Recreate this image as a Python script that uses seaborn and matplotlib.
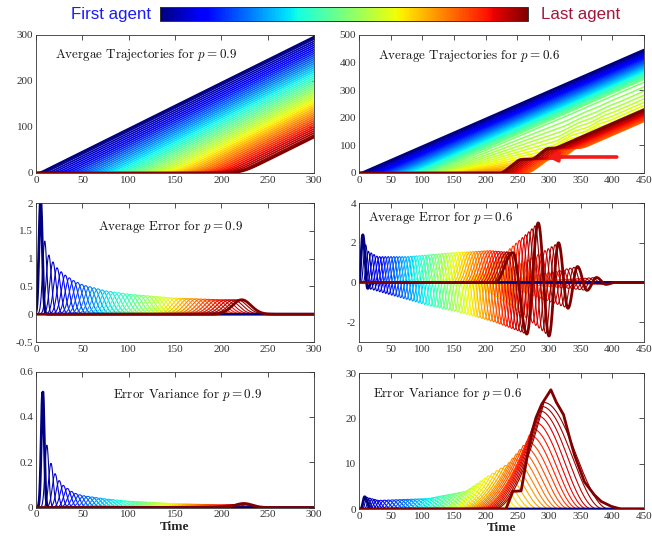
import numpy as np
import pandas as pd
import matplotlib
matplotlib.use("Agg")
import matplotlib.pyplot as plt
import seaborn as sns
from matplotlib.cm import ScalarMappable
from matplotlib.colors import Normalize
from matplotlib.ticker import FuncFormatter

# ------------------------------------------------------------------
# Values
# ------------------------------------------------------------------
N_LEFT = 50          # agents, p = 0.9
N_RIGHT = 54         # agents, p = 0.6

# ---- p = 0.9 (left column) ----
left_tau = [5.0, 222.0]                      # first / last agent start time
left_traj_sigma_c = [0.0, 0.25, 0.5, 1.0]
left_traj_sigma = [2.0, 7.0, 10.0, 10.0]
left_err_peak_t = [4.7, 9, 13.7, 18.7, 23.4, 30, 40, 50, 75, 100, 150, 200, 222]
left_err_peak_v = [2.1, 1.34, 1.07, 0.93, 0.82, 0.72, 0.61, 0.53, 0.42, 0.36, 0.29, 0.26, 0.26]
left_err_width_t = [5, 20, 50, 100, 222]
left_err_width = [1.8, 3.5, 5.5, 7.5, 10.0]
left_var_peak_t = [7.1, 11.7, 15.9, 20.5, 24.8, 29.4, 34, 39, 44, 50, 75, 100, 150, 200, 215, 224]
left_var_peak_v = [0.524, 0.277, 0.198, 0.15, 0.12, 0.098, 0.084, 0.069, 0.06, 0.053,
                   0.038, 0.028, 0.017, 0.011, 0.013, 0.018]

# ---- p = 0.6 (right column) ----
right_tau = [5.0, 221.0]
right_traj_sigma_c = [0.0, 0.3, 1.0]
right_traj_sigma = [2.0, 10.0, 12.0]
jam_phase_start = [227, 254, 276, 297, 311]   # last agent go / stop phases
jam_phase_speed = [1.85, 0.0, 1.9, 0.0, 1.0]
jam_blend_c = [0.5, 0.8]

err_first_peak_t = [6.0, 243.0]
err_peak_c = [0, 0.03, 0.1, 0.3, 0.6, 0.85, 1]
err_peak_v = [2.4, 1.6, 1.3, 1.3, 1.5, 1.6, 1.5]
err_trough_c = [0, 0.2, 0.4, 0.6, 0.8, 1]
err_trough_v = [0.3, 0.75, 1.2, 1.55, 2.0, 2.6]
err_rise_c = [0, 0.1, 1]
err_rise_w = [6, 12, 28]
err_scale = [0.35, 1.0]
err_offsets = [0, 22, 40, 57, 72, 87, 102, 117, 132, 147]
err_tail_values = [3.0, -2.7, 2.0, -1.3, 0.8, -0.4, 0.25, -0.1]
err_growth_c = [0.55, 1.0]

var_c = [0, 0.1, 0.35, 0.55, 0.65, 0.75, 0.85, 0.93, 0.98]
var_start_t = [3, 18, 85, 130, 150, 170, 190, 205, 215]
var_peak_t = [9, 30, 110, 170, 200, 235, 265, 283, 292]
var_peak_h = [2.7, 1.9, 2.3, 4.0, 7.0, 10.0, 15.0, 21.0, 23.5]
var_end_t = [18, 45, 140, 215, 250, 300, 340, 370, 395]
var_last_t = [0, 232, 243, 256, 266, 273, 279, 288, 303, 311, 323, 330, 340, 356, 371, 382, 398, 413, 450]
var_last_v = [0, 0, 3.9, 4.0, 12, 17, 20, 23, 26.3, 23.7, 20.8, 17, 12, 6, 3.2, 1.7, 0.6, 0, 0]

x_ticks_left = [0, 50, 100, 150, 200, 250, 300]
x_ticks_right = [0, 50, 100, 150, 200, 250, 300, 350, 400, 450]

# ------------------------------------------------------------------
# helpers
# ------------------------------------------------------------------
def Phi(z):
    return 0.5 * (1 + np.tanh(0.7978845608 * (z + 0.044715 * z ** 3)))


def cos_curve(t, kt, kv):
    kt = np.asarray(kt, float)
    kv = np.asarray(kv, float)
    y = np.zeros_like(t)
    idx = np.searchsorted(kt, t, side="right") - 1
    inside = (idx >= 0) & (idx < len(kt) - 1)
    i = idx[inside]
    u = (t[inside] - kt[i]) / (kt[i + 1] - kt[i])
    y[inside] = kv[i] + (kv[i + 1] - kv[i]) * (1 - np.cos(np.pi * u)) / 2
    return y


dt = 0.5
tL = np.arange(0, 300 + dt / 2, dt)
tR = np.arange(0, 450 + dt / 2, dt)
cL = np.linspace(0, 1, N_LEFT)
cR = np.linspace(0, 1, N_RIGHT)

# ---- left curves ----
left_traj, left_err, left_var = [], [], []
for c in cL:
    tau = np.interp(c, [0, 1], left_tau)
    sig = np.interp(c, left_traj_sigma_c, left_traj_sigma)
    v = Phi((tL - tau) / sig)
    left_traj.append(np.cumsum(v) * dt)
    A = np.interp(tau, left_err_peak_t, left_err_peak_v)
    s = np.interp(tau, left_err_width_t, left_err_width)
    left_err.append(A * np.exp(-0.5 * ((tL - tau) / s) ** 2))
    B = np.interp(tau + 2.3, left_var_peak_t, left_var_peak_v)
    left_var.append(B * np.exp(-0.5 * ((tL - tau - 2.3) / (0.9 * s)) ** 2))

# ---- right curves ----
v_last = np.zeros_like(tR)
for k, ts in enumerate(jam_phase_start):
    v_last[tR >= ts] = jam_phase_speed[k]
ker_t = np.arange(-12, 12 + dt / 2, dt)
ker = np.exp(-0.5 * (ker_t / 3.5) ** 2)
ker /= ker.sum()
v_last = np.convolve(np.pad(v_last, (len(ker_t) // 2, len(ker_t) // 2), mode="edge"), ker, mode="valid")
X_last = np.cumsum(v_last) * dt

right_traj, right_err, right_var = [], [], []
for j, c in enumerate(cR):
    tau = np.interp(c, [0, 1], right_tau)
    sig = np.interp(c, right_traj_sigma_c, right_traj_sigma)
    F = np.cumsum(Phi((tR - tau) / sig)) * dt
    w = np.clip((c - jam_blend_c[0]) / (jam_blend_c[1] - jam_blend_c[0]), 0, 1)
    delta = (right_tau[1] - right_tau[0]) * (1 - c)
    J = np.interp(tR - delta, tR, X_last, left=0.0)
    right_traj.append((1 - w) * F + w * J)

    T1 = np.interp(c, [0, 1], err_first_peak_t)
    sc = np.interp(c, [0, 1], err_scale)
    P = np.interp(c, err_peak_c, err_peak_v)
    Q = np.interp(c, err_trough_c, err_trough_v)
    r = np.interp(c, err_rise_c, err_rise_w)
    g = np.clip((c - err_growth_c[0]) / (err_growth_c[1] - err_growth_c[0]), 0, 1)
    kt = [T1 - r, T1, T1 + err_offsets[1] * sc]
    kv = [0.0, P, -Q]
    if g > 0:
        for k, val in enumerate(err_tail_values):
            kt.append(T1 + err_offsets[k + 2] * sc)
            kv.append(val * g ** 1.2)
    kt.append(kt[-1] + 12 * sc + 2)
    kv.append(0.0)
    right_err.append(cos_curve(tR, kt, kv))

    if j == N_RIGHT - 1:
        right_var.append(np.interp(tR, var_last_t, var_last_v))
    else:
        ts = np.interp(c, var_c, var_start_t)
        tp = np.interp(c, var_c, var_peak_t)
        h = np.interp(c, var_c, var_peak_h)
        te = np.interp(c, var_c, var_end_t)
        mix = np.clip((c - 0.4) / 0.3, 0, 1)
        y = np.zeros_like(tR)
        m1 = (tR >= ts) & (tR < tp)
        u = (tR[m1] - ts) / (tp - ts)
        y[m1] = h * ((1 - mix) * (1 - np.cos(np.pi * u)) / 2 + mix * u ** 1.8)
        m2 = (tR >= tp) & (tR <= te)
        u = (tR[m2] - tp) / (te - tp)
        y[m2] = h * (1 + np.cos(np.pi * u)) / 2
        right_var.append(y)

# ------------------------------------------------------------------
# drawing
# ------------------------------------------------------------------
sns.set_style("white")
plt.rcParams["font.family"] = ["Liberation Serif", "DejaVu Serif"]
plt.rcParams["mathtext.fontset"] = "cm"
plt.rcParams["axes.unicode_minus"] = False

fig = plt.figure(figsize=(6.52, 5.44), dpi=100)
AX_COL = "#333333"
jet = plt.get_cmap("jet")

pos = {
    (0, 0): [0.0552, 0.682, 0.4264, 0.2537],
    (0, 1): [0.5506, 0.682, 0.4371, 0.2537],
    (1, 0): [0.0552, 0.3713, 0.4264, 0.2555],
    (1, 1): [0.5506, 0.3713, 0.4371, 0.2555],
    (2, 0): [0.0552, 0.067, 0.4264, 0.2500],
    (2, 1): [0.5506, 0.0643, 0.4371, 0.2500],
}


def draw(ax, t, curves, lw):
    n = len(curves)
    rows = []
    for i in range(1, n - 1):
        rows.append(pd.DataFrame({"t": t, "y": curves[i], "agent": i}))
    df = pd.concat(rows, ignore_index=True)
    sns.lineplot(data=df, x="t", y="y", hue="agent", palette=jet, hue_norm=(0, n - 1),
                 estimator=None, sort=False, legend=False, linewidth=lw, ax=ax)
    sns.lineplot(x=t, y=curves[0], color=jet(0.0), linewidth=2.0, estimator=None, sort=False, ax=ax)
    sns.lineplot(x=t, y=curves[-1], color=jet(1.0), linewidth=2.0, estimator=None, sort=False, ax=ax)


def style(ax, xlim, xticks, ylim, yticks):
    ax.set_xlim(*xlim)
    ax.set_ylim(*ylim)
    ax.set_xticks(xticks)
    ax.set_yticks(yticks)
    fmt = FuncFormatter(lambda v, p: "%g" % v)
    ax.xaxis.set_major_formatter(fmt)
    ax.yaxis.set_major_formatter(fmt)
    ax.tick_params(direction="in", top=True, right=True, length=3.5, width=0.6,
                   labelsize=8, colors=AX_COL, pad=2)
    for sp in ax.spines.values():
        sp.set_visible(True)
        sp.set_color(AX_COL)
        sp.set_linewidth(0.6)
    ax.set_xlabel("")
    ax.set_ylabel("")


def title(ax, x, y, s):
    ax.text(x, y, s, transform=ax.transAxes, fontsize=9.4, family="cmr10",
            ha="left", va="center", color="#111111")


axes = {k: fig.add_axes(v) for k, v in pos.items()}

draw(axes[(0, 0)], tL, left_traj, 1.2)
style(axes[(0, 0)], (0, 300), x_ticks_left, (0, 300), [0, 100, 200, 300])
title(axes[(0, 0)], 0.068, 0.855, r"Avergae Trajectories for $p = 0.9$")

draw(axes[(0, 1)], tR, right_traj, 1.2)
style(axes[(0, 1)], (0, 450), x_ticks_right, (0, 500), [0, 100, 200, 300, 400, 500])
title(axes[(0, 1)], 0.067, 0.848, r"Average Trajectories for $p = 0.6$")
axes[(0, 1)].annotate("", xy=(297, 58), xytext=(407, 58),
                      arrowprops=dict(arrowstyle="-|>", color="#f21a1a", lw=2.6,
                                      mutation_scale=14, shrinkA=0, shrinkB=0))

draw(axes[(1, 0)], tL, left_err, 0.8)
style(axes[(1, 0)], (0, 300), x_ticks_left, (-0.5, 2), [-0.5, 0, 0.5, 1, 1.5, 2])
title(axes[(1, 0)], 0.223, 0.827, r"Average Error for $p = 0.9$")

draw(axes[(1, 1)], tR, right_err, 0.8)
style(axes[(1, 1)], (0, 450), x_ticks_right, (-3, 4), [-2, 0, 2, 4])
title(axes[(1, 1)], 0.032, 0.89, r"Average Error for $p = 0.6$")

draw(axes[(2, 0)], tL, left_var, 0.8)
style(axes[(2, 0)], (0, 300), x_ticks_left, (0, 0.6), [0, 0.2, 0.4, 0.6])
title(axes[(2, 0)], 0.277, 0.83, r"Error Variance for $p = 0.9$")
axes[(2, 0)].set_xlabel("Time", fontweight="bold", fontsize=9.5, labelpad=1)

draw(axes[(2, 1)], tR, right_var, 0.8)
style(axes[(2, 1)], (0, 450), x_ticks_right, (0, 30), [0, 10, 20, 30])
title(axes[(2, 1)], 0.05, 0.846, r"Error Variance for $p = 0.6$")
axes[(2, 1)].set_xlabel("Time", fontweight="bold", fontsize=9.5, labelpad=1)

# colour bar with agent labels
cax = fig.add_axes([0.2454, 0.9614, 0.5644, 0.0257])
cb = fig.colorbar(ScalarMappable(norm=Normalize(0, 1), cmap="jet"), cax=cax, orientation="horizontal")
cb.set_ticks(np.linspace(0.1, 0.9, 9))
cax.xaxis.set_ticks_position("top")
cax.tick_params(direction="in", length=3, width=0.6, labeltop=False, labelbottom=False, colors=AX_COL)
cb.outline.set_edgecolor(AX_COL)
cb.outline.set_linewidth(0.7)
fig.text(0.2316, 0.974, "First agent", color="#1a1aff", fontsize=12.2,
         family="Liberation Sans", ha="right", va="center")
fig.text(0.829, 0.974, "Last agent", color="#a3173a", fontsize=12.2,
         family="Liberation Sans", ha="left", va="center")

fig.savefig("out.png", dpi=100)
